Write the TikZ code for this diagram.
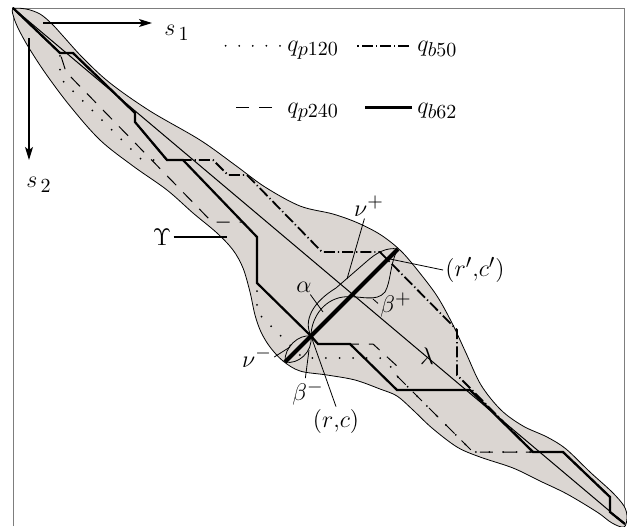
\documentclass[tikz,border=0pt]{standalone}
\usetikzlibrary{arrows.meta}
\DeclareMathSizes{12}{12}{10}{8}
\definecolor{bandgray}{RGB}{219,214,210}
\definecolor{framegray}{RGB}{125,125,125}
\tikzset{
    band/.style={fill=bandgray, draw=black, line width=0.4pt},
    diagline/.style={line width=0.5pt},
    pdot/.style={line width=1pt, line cap=round, dash pattern=on 0pt off 6.8pt},
    pdash/.style={line width=0.5pt, dash pattern=on 6.5pt off 5pt},
    bdashdot/.style={line width=0.9pt, dash pattern=on 5.5pt off 1.5pt on 0.6pt off 1.5pt},
    bsolid/.style={line width=1.1pt},
    heavy/.style={line width=2pt},
    leader/.style={line width=0.4pt},
    axisarrow/.style={line width=0.6pt, -{Stealth[length=6.5pt, width=4pt, inset=1.5pt]}},
    lbl/.style={inner sep=1pt, font=\large}
}
\begin{document}
\begin{tikzpicture}[x=0.5pt, y=-0.5pt]
                \useasboundingbox (0,0) rectangle (627,526);
                \draw[framegray, line width=0.5pt] (13,526) -- (13,8) -- (624,8) -- (624,526);

                \coordinate (C) at (13,8);
                \coordinate (E) at (625,524);
                \coordinate (rc) at (311,336);
                \coordinate (rcp) at (398,249);
                \coordinate (nm) at (285,362);

                \filldraw[band] plot[smooth cycle, tension=0.55] coordinates {
                    (13,9) (26,9) (40,14) (52,24) (63,36) (83,58) (110,83) (150,111)
                    (200,140) (235,165) (265,187) (300,206) (333,214) (358,223) (381,235)
                    (401,251) (419,272) (437,296) (452,323) (466,353) (481,385) (501,410)
                    (523,426) (547,437) (566,449) (590,472) (612,492) (624,506) (627,517)
                    (624,527) (612,523) (597,512) (567,494) (540,481) (513,468) (480,457)
                    (457,447) (432,428) (413,410) (397,396) (380,389) (355,380) (327,375)
                    (300,371) (283,361) (270,347) (261,332) (255,315) (250,292) (243,268)
                    (233,250) (217,233) (193,213) (167,190) (133,166) (100,140) (70,106)
                    (46,74) (29,48) (19,30) (14,18)
                };

                \draw[diagline] (C) -- (E);

                \draw[pdot] (C) -- (60,53) -- (60,78) -- (142,160) -- (183,160) -- (257,237)
                    -- (257,283) -- (257,312) -- (303,358) -- (380,358) -- (397,372) -- (397,376)
                    -- (473,452) -- (563,452) -- (610,497) -- (610,512) -- (E);
                \draw[pdash] (C) -- (60,53) -- (66,72) -- (212,222) -- (243,222) -- (257,237)
                    -- (257,283) -- (rc) -- (318,344) -- (373,344) -- (397,366) -- (397,376)
                    -- (473,452) -- (563,452) -- (610,497) -- (610,512) -- (E);
                \draw[bdashdot] (C) -- (60,53) -- (73,53) -- (135,113) -- (135,122) -- (167,160)
                    -- (213,160) -- (228,175) -- (247,175) -- (322,252) -- (380,252) -- (457,330)
                    -- (457,375) -- (472,390) -- (533,452) -- (563,452) -- (610,497) -- (610,512) -- (E);
                \draw[bsolid] (C) -- (60,53) -- (73,53) -- (135,113) -- (135,122) -- (167,160)
                    -- (183,160) -- (257,237) -- (257,283) -- (rc) -- (318,344) -- (350,344)
                    -- (397,390) -- (470,390) -- (533,452) -- (563,452) -- (610,497) -- (610,512) -- (E);

                \draw[heavy] (nm) -- (rcp);
                \draw[leader] (rc) .. controls (303,320) and (313,302) .. (336,288) -- (366,262)
                    .. controls (376,253) and (386,247) .. (rcp);
                \draw[leader] (rc) .. controls (311,320) and (322,300) .. (343,297)
                    .. controls (360,295) and (376,303) .. (385,292)
                    .. controls (391,282) and (390,262) .. (rcp);
                \draw[leader] (rc) .. controls (299,334) and (284,347) .. (nm);
                \draw[leader] (rc) .. controls (313,352) and (298,365) .. (nm);

                \coordinate (o1) at (43,23);
                \coordinate (t1) at (152,23);
                \coordinate (o2) at (29,38);
                \coordinate (t2) at (29,160);
                \draw[axisarrow] (o1) -- (t1);
                \draw[axisarrow] (o2) -- (t2);
                \node[lbl] (s1) at (177,33) {$s_{\,1}$};
                \node[lbl] (s2) at (39,185) {$s_{\,2}$};

                \node[lbl, anchor=base west] (lgpa) at (285,51) {$q_{p120}$};
                \node[lbl, anchor=base west] (lgba) at (415,51) {$q_{b50}$};
                \node[lbl, anchor=base west] (lgpb) at (285,113) {$q_{p240}$};
                \node[lbl, anchor=base west] (lgbb) at (415,113) {$q_{b62}$};
                \draw[pdot] ([shift={(-2.5pt,2.6pt)}]lgpa.base west) -- ++(-60,0);
                \draw[bdashdot] ([shift={(-3pt,2.6pt)}]lgba.base west) -- ++(-52,0);
                \draw[pdash] ([shift={(-6.5pt,2.6pt)}]lgpb.base west) -- ++(-37,0);
                \draw[line width=1.5pt] ([shift={(-1.5pt,2.6pt)}]lgbb.base west) -- ++(-47,0);

                \node[lbl] (ups) at (162,237) {$\Upsilon$};
                \coordinate (upsend) at (227,237);
                \draw[line width=0.7pt] (ups.east) -- (upsend);

                \node[lbl] (lam) at (427,356) {$\lambda$};

                \node[lbl] (nup) at (369,206) {$\nu^+$};
                \coordinate (nupend) at (347,279);
                \draw[leader] (nup.250) -- (nupend);

                \node[lbl] (alp) at (304,287) {$\alpha$};
                \coordinate (alpend) at (323,312);
                \draw[leader] (alp.-50) -- (alpend);

                \node[lbl] (betp) at (396,305) {$\beta^+$};
                \coordinate (betpend) at (373,299);
                \draw[leader] (betp.175) -- (betpend);

                \node[lbl] (rcplbl) at (475,270) {$(r'{,}c')$};
                \coordinate (rcpend) at (390,259);
                \draw[leader] (rcplbl.west) -- (rcpend);

                \node[lbl] (rclbl) at (336,421) {$(r{,}c)$};
                \draw[leader] (rc) -- (rclbl.north);

                \node[lbl] (betm) at (308,393) {$\beta^-$};
                \coordinate (betmend) at (309,350);
                \draw[leader] (betm.100) -- (betmend);

                \node[lbl] (num) at (257,357) {$\nu^-$};
                \coordinate (numend) at (290,347);
                \draw[leader] (num.east) -- (numend);
            \end{tikzpicture}
\end{document}
